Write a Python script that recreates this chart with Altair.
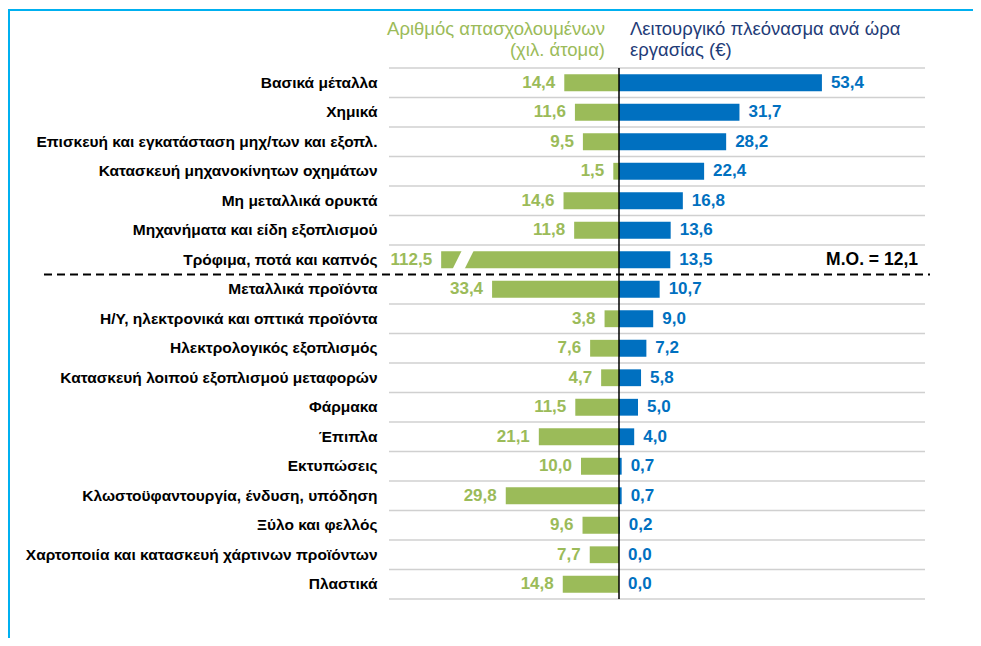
import altair as alt
import pandas as pd

categories = [
    "Βασικά μέταλλα",
    "Χημικά",
    "Επισκευή και εγκατάσταση μηχ/των και εξοπλ.",
    "Κατασκευή μηχανοκίνητων οχημάτων",
    "Μη μεταλλικά ορυκτά",
    "Μηχανήματα και είδη εξοπλισμού",
    "Τρόφιμα, ποτά και καπνός",
    "Μεταλλικά προϊόντα",
    "Η/Υ, ηλεκτρονικά και οπτικά προϊόντα",
    "Ηλεκτρολογικός εξοπλισμός",
    "Κατασκευή λοιπού εξοπλισμού μεταφορών",
    "Φάρμακα",
    "Έπιπλα",
    "Εκτυπώσεις",
    "Κλωστοϋφαντουργία, ένδυση, υπόδηση",
    "Ξύλο και φελλός",
    "Χαρτοποιία και κατασκευή χάρτινων προϊόντων",
    "Πλαστικά",
]
employment = [14.4, 11.6, 9.5, 1.5, 14.6, 11.8, 112.5, 33.4, 3.8, 7.6, 4.7, 11.5, 21.1, 10.0, 29.8, 9.6, 7.7, 14.8]
surplus = [53.4, 31.7, 28.2, 22.4, 16.8, 13.6, 13.5, 10.7, 9.0, 7.2, 5.8, 5.0, 4.0, 0.7, 0.7, 0.2, 0.0, 0.0]
avg_surplus = 12.1
avg_row = "Τρόφιμα, ποτά και καπνός"
split_before = "Μεταλλικά προϊόντα"
header_left = ["Αριθμός απασχολουμένων", "(χιλ. άτομα)"]
header_right = ["Λειτουργικό πλεόνασμα ανά ώρα", "εργασίας (€)"]

df = pd.DataFrame({"cat": categories, "emp": employment, "sur": surplus})
one = pd.DataFrame({"v": [0]})

GREEN = "#9BBB59"
BLUE = "#0070C0"
NAVY = "#1F3C78"
FRAME = "#00B0F0"
FONT = "Liberation Sans"

W, H = 536, 531
PX = 3.8
XMIN, XMAX = -230 / PX, 306 / PX
CAP = 46.8          # display cap for the broken bar
BREAK_AT = 41.0     # where the break symbol sits

xscale = alt.Scale(domain=[XMIN, XMAX], nice=False, zero=False)
yscale = alt.Scale(paddingInner=0, paddingOuter=0)
yaxis = alt.Axis(
    title=None, domain=False, ticks=False, grid=False, labelFontSize=15.5, labelFontWeight="bold",
    labelColor="black", labelFont=FONT, labelPadding=12, labelLimit=0,
)
y = alt.Y("cat:N", sort=categories, scale=yscale, axis=yaxis)
y_top = alt.Y("cat:N", sort=categories, scale=yscale, axis=yaxis, bandPosition=0)
y_bot = alt.Y("cat:N", sort=categories, scale=yscale, axis=yaxis, bandPosition=1)

base = alt.Chart(df).transform_calculate(
    emp_draw=f"-min(datum.emp, {CAP})",
    emp_lbl="replace(format(datum.emp, '.1f'), '.', ',')",
    sur_lbl="replace(format(datum.sur, '.1f'), '.', ',')",
)

grid = base.transform_filter(f"datum.cat !== '{split_before}'").mark_rule(
    color="#D0D0D0", strokeWidth=1.5).encode(y=y_top, x=alt.value(0), x2=alt.value(W))
grid_bottom = base.transform_filter(f"datum.cat === '{categories[-1]}'").mark_rule(
    color="#D0D0D0", strokeWidth=1.5).encode(y=y_bot, x=alt.value(0), x2=alt.value(W))

green_bars = base.mark_bar(color=GREEN, height=alt.RelativeBandSize(0.57)).encode(
    x=alt.X("emp_draw:Q", scale=xscale, axis=None), x2=alt.datum(0), y=y)
blue_bars = base.mark_bar(color=BLUE, height=alt.RelativeBandSize(0.57)).encode(
    x=alt.X("sur:Q", scale=xscale, axis=None), x2=alt.datum(0), y=y)
green_txt = base.mark_text(align="right", dx=-9, fontSize=17, fontWeight="bold", color=GREEN, font=FONT).encode(
    x=alt.X("emp_draw:Q", scale=xscale, axis=None), y=y, text="emp_lbl:N")
blue_txt = base.mark_text(align="left", dx=9, fontSize=17, fontWeight="bold", color=BLUE, font=FONT).encode(
    x=alt.X("sur:Q", scale=xscale, axis=None), y=y, text="sur_lbl:N")

brk = base.transform_filter(f"datum.emp > {CAP}").transform_calculate(
    bx=f"-{BREAK_AT}").mark_point(
    shape="M -0.05 -1.1 L 1.15 -1.1 L 0.05 1.1 L -1.15 1.1 Z",
    size=400, filled=True, color="white", opacity=1, strokeWidth=0).encode(
    x=alt.X("bx:Q", scale=xscale, axis=None), y=y)

zero_line = alt.Chart(one).mark_rule(color="black", strokeWidth=1.5).encode(
    x=alt.X("v:Q", scale=xscale, axis=None))

dashed = base.transform_filter(f"datum.cat === '{split_before}'").mark_rule(
    color="black", strokeWidth=2, strokeDash=[8, 5]).encode(
    y=y_top, x=alt.value(-345), x2=alt.value(541))

avg_label = "Μ.Ο. = " + f"{avg_surplus:.1f}".replace(".", ",")
avg_txt = base.transform_filter(f"datum.cat === '{avg_row}'").mark_text(
    text=avg_label, align="right", fontSize=17.5, fontWeight="bold", color="black", font=FONT).encode(
    y=y, x=alt.value(529))

hdr = []
for i, (tl, tr) in enumerate(zip(header_left, header_right)):
    yy = -39 + 21 * i
    hdr.append(alt.Chart(one).mark_text(text=tl, align="right", dx=-14, fontSize=18.5, color=GREEN, font=FONT)
               .encode(x=alt.X("v:Q", scale=xscale, axis=None), y=alt.value(yy)))
    hdr.append(alt.Chart(one).mark_text(text=tr, align="left", dx=11, fontSize=18.5, color=NAVY, font=FONT)
               .encode(x=alt.X("v:Q", scale=xscale, axis=None), y=alt.value(yy)))

frame_top = alt.Chart(one).mark_rule(color=FRAME, strokeWidth=2).encode(
    x=alt.value(-381), x2=alt.value(584), y=alt.value(-58))
frame_left = alt.Chart(one).mark_rule(color=FRAME, strokeWidth=2).encode(
    x=alt.value(-380), y=alt.value(-58), y2=alt.value(570))

chart = alt.layer(
    grid, grid_bottom, green_bars, blue_bars, brk, zero_line, dashed, green_txt, blue_txt, avg_txt,
    *hdr, frame_top, frame_left
).properties(
    width=W, height=H, autosize="none",
    padding={"left": 381, "top": 60, "right": 48, "bottom": 39},
    background="white",
).configure_view(stroke=None)

chart.save("out.html", embed_options={"renderer": "svg", "actions": False})
